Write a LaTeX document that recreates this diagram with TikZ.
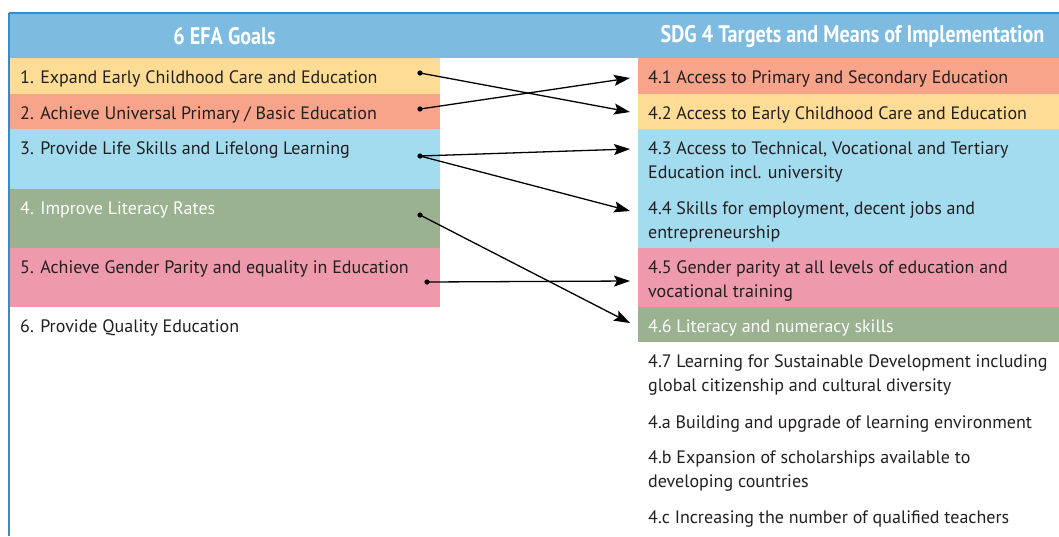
\documentclass[tikz,border=0pt]{standalone}
\usepackage{fontspec}
\setmainfont{PT Sans}
\newfontfamily\headfont[FakeStretch=0.84]{PT Sans}
\usetikzlibrary{calc,positioning,arrows.meta}
\definecolor{hdrblue}{RGB}{125,187,224}
\definecolor{edgeblue}{RGB}{52,140,205}
\definecolor{rowyellow}{RGB}{253,221,150}
\definecolor{rowsalmon}{RGB}{247,164,139}
\definecolor{rowblue}{RGB}{163,219,239}
\definecolor{rowgreen}{RGB}{154,178,143}
\definecolor{rowpink}{RGB}{238,154,172}
\definecolor{ink}{RGB}{35,31,32}

\begin{document}
\begin{tikzpicture}[x=1pt,y=-1pt,>={Stealth[length=16pt,width=11pt,inset=3pt]},
    rowbox/.style={inner sep=0pt,outer sep=0pt,anchor=north west,minimum width=431pt},
    rightbox/.style={rowbox,minimum width=421pt},
    item/.style={inner sep=0pt,anchor=north west,align=left,text=ink,
        font=\fontsize{18}{24}\selectfont},
    lightitem/.style={item,text=white},
    head/.style={text=white,font=\headfont\bfseries\fontsize{24}{26}\selectfont},
    link/.style={->,line width=1.3pt},
    edge/.style={edgeblue,line width=1.5pt}]
\useasboundingbox (0,0) rectangle (1059,536);

\node[rowbox,fill=hdrblue,minimum width=1050pt,minimum height=45pt] (hdr) at (9,13) {};

\node[rowbox,fill=rowyellow,minimum height=36pt] (g1) at (9,58) {};
\node[rowbox,fill=rowsalmon,minimum height=35pt] (g2) at (9,94) {};
\node[rowbox,fill=rowblue,minimum height=60pt] (g3) at (9,129) {};
\node[rowbox,fill=rowgreen,minimum height=59pt] (g4) at (9,189) {};
\node[rowbox,fill=rowpink,minimum height=59pt] (g5) at (9,248) {};

\node[rightbox,fill=rowsalmon,minimum height=36pt] (t1) at (638,58) {};
\node[rightbox,fill=rowyellow,minimum height=35pt] (t2) at (638,94) {};
\node[rightbox,fill=rowblue,minimum height=60pt] (t3) at (638,129) {};
\node[rightbox,fill=rowblue,minimum height=59pt] (t4) at (638,189) {};
\node[rightbox,fill=rowpink,minimum height=59pt] (t5) at (638,248) {};
\node[rightbox,fill=rowgreen,minimum height=35pt] (t6) at (638,307) {};

\draw[edge] (hdr.north west) -- (hdr.north east);
\draw[edge] (hdr.north west) -- (9,536);

\node[head] (hl) at ($(g1.north |- hdr)+(0,1)$) {6 EFA Goals};
\node[head] (hr) at ($(t1.north |- hdr)+(4,1)$) {SDG 4 Targets and Means of Implementation};

\node[item] (g1t) at ($(g1.north west)+(11,12)$) {1. Expand Early Childhood Care and Education};
\node[item] (g2t) at ($(g2.north west)+(11,12)$) {2. Achieve Universal Primary / Basic Education};
\node[item] (g3t) at ($(g3.north west)+(11,12)$) {3. Provide Life Skills and Lifelong Learning};
\node[lightitem] (g4t) at ($(g4.north west)+(11,12)$) {4. Improve Literacy Rates};
\node[item] (g5t) at ($(g5.north west)+(11,12)$) {5. Achieve Gender Parity and equality in Education};
\node[item] (g6t) at ($(g5.south west)+(11,12)$) {6. Provide Quality Education};

\node[item] (t1t) at ($(t1.north west)+(10,12)$) {4.1 Access to Primary and Secondary Education};
\node[item] (t2t) at ($(t2.north west)+(10,12)$) {4.2 Access to Early Childhood Care and Education};
\node[item] (t3t) at ($(t3.north west)+(10,12)$) {4.3 Access to Technical, Vocational and Tertiary\\Education incl. university};
\node[item] (t4t) at ($(t4.north west)+(10,12)$) {4.4 Skills for employment, decent jobs and\\entrepreneurship};
\node[item] (t5t) at ($(t5.north west)+(10,12)$) {4.5 Gender parity at all levels of education and\\vocational training};
\node[lightitem] (t6t) at ($(t6.north west)+(10,12)$) {4.6 Literacy and numeracy skills};
\node[item] (t7t) at ($(t6.south west)+(10,12)$) {4.7 Learning for Sustainable Development including\\global citizenship and cultural diversity};
\node[item] (tat) at (648,415) {4.a Building and upgrade of learning environment};
\node[item] (tbt) at (648,450) {4.b Expansion of scholarships available to\\developing countries};
\node[item] (tct) at (648,510) {4.c Increasing the number of qualified teachers};

\coordinate (d1) at (420,73);
\coordinate (d2) at (420,109);
\coordinate (d3) at (420,156);
\coordinate (d4) at (420,215);
\coordinate (d5) at (427,282);
\coordinate (a1) at (630,78);
\coordinate (a2) at (630,112);
\coordinate (a3) at (630,149);
\coordinate (a4) at (630,211);
\coordinate (a5) at (630,281);
\coordinate (a6) at (630,323);

\foreach \d in {d1,d2,d3,d4,d5}
    \fill (\d) circle (2.6pt);
\draw[link] (d1) -- (a2);
\draw[link] (d2) -- (a1);
\draw[link] (d3) -- (a3);
\draw[link] (d3) -- (a4);
\draw[link] (d4) -- (a6);
\draw[link] (d5) -- (a5);
\end{tikzpicture}
\end{document}
